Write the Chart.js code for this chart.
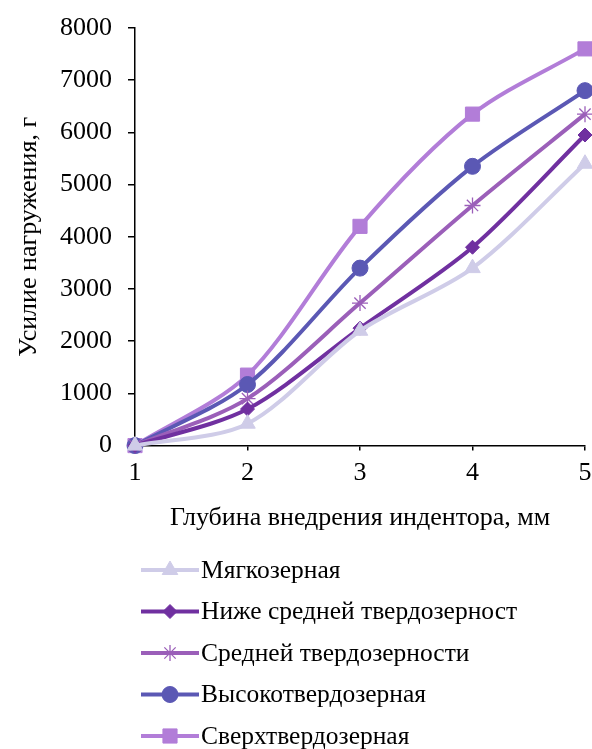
<!DOCTYPE html>
<html lang="ru">
<head>
  <meta charset="UTF-8" />
  <title>Усилие нагружения</title>
  <script src="https://cdn.jsdelivr.net/npm/chart.js@4"></script>
  <style>
    body { margin: 0; background: #fff; }
    #wrap { width: 592px; height: 749px; position: relative; }
  </style>
</head>
<body>
  <div id="wrap"><canvas id="chart"></canvas></div>

  <script>
    // Данные
    const depth = ['1', '2', '3', '4', '5'];
    const yTicks = [0, 1000, 2000, 3000, 4000, 5000, 6000, 7000, 8000];
    const soft = [0, 420, 2200, 3400, 5400];
    const belowMid = [0, 700, 2250, 3800, 5950];
    const mid = [0, 900, 2730, 4600, 6350];
    const high = [0, 1170, 3400, 5350, 6800];
    const superHard = [0, 1350, 4200, 6350, 7600];

    const labels = ['Мягкозерная', 'Ниже средней твердозерност', 'Средней твердозерности',
                    'Высокотвердозерная', 'Сверхтвердозерная'];
    const colors = ['#cfcce8', '#7030a0', '#9b5fb9', '#5b58b4', '#b27dd8'];
    const markers = ['triangle', 'rectRot', 'star', 'circle', 'rect'];
    const sizes = [9, 7, 8, 8, 10];
    const series = [soft, belowMid, mid, high, superHard];

    const font = "'Liberation Serif', 'Times New Roman', serif";
    const fontSize = 26;

    // Вертикальная легенда под графиком
    const legendPlugin = {
      id: 'vlegend',
      afterDraw(chart) {
        const ctx = chart.ctx;
        ctx.save();
        chart.data.datasets.forEach((ds, i) => {
          const y = 570 + i * 41.5;
          const x0 = 141, x1 = 199;
          ctx.strokeStyle = ds.borderColor;
          ctx.lineWidth = 4;
          ctx.beginPath();
          ctx.moveTo(x0, y);
          ctx.lineTo(x1, y);
          ctx.stroke();
          ctx.fillStyle = ds.pointBackgroundColor;
          ctx.strokeStyle = ds.pointBorderColor;
          ctx.lineWidth = ds.pointBorderWidth;
          Chart.helpers.drawPoint(ctx, {
            pointStyle: ds.pointStyle,
            radius: ds.pointRadius,
            borderWidth: ds.pointBorderWidth
          }, (x0 + x1) / 2, y);
          ctx.fillStyle = '#000';
          ctx.font = '25.5px ' + font;
          ctx.textBaseline = 'middle';
          ctx.fillText(ds.label, 201, y + 1);
        });
        ctx.restore();
      }
    };

    new Chart(document.getElementById('chart'), {
      type: 'line',
      data: {
        labels: depth,
        datasets: series.map((d, i) => ({
          label: labels[i],
          data: d,
          borderColor: colors[i],
          backgroundColor: colors[i],
          pointBackgroundColor: colors[i],
          pointBorderColor: colors[i],
          pointStyle: markers[i],
          pointRadius: sizes[i],
          pointBorderWidth: markers[i] === 'star' ? 1.3 : 1,
          borderWidth: 4,
          tension: 0.3,
          fill: false,
          clip: false
        }))
      },
      options: {
        responsive: true,
        maintainAspectRatio: false,
        animation: false,
        layout: { autoPadding: false, padding: { top: 28, right: 7, bottom: 209, left: 0 } },
        plugins: {
          legend: { display: false },
          tooltip: { enabled: false }
        },
        scales: {
          x: {
            offset: false,
            afterFit: (axis) => { axis.paddingLeft = 0; axis.paddingRight = 0; },
            grid: { display: true, drawOnChartArea: false, color: '#000', tickLength: 5, lineWidth: 1.5 },
            border: { color: '#000', width: 1.5 },
            ticks: { color: '#000', font: { family: font, size: fontSize }, padding: 7, maxRotation: 0 },
            title: {
              display: true,
              text: 'Глубина внедрения индентора, мм',
              color: '#000',
              font: { family: font, size: fontSize },
              padding: { top: 7, bottom: 6 }
            }
          },
          y: {
            min: 0,
            max: 8000,
            afterBuildTicks: (axis) => { axis.ticks = yTicks.map(v => ({ value: v })); },
            afterFit: (axis) => { axis.width = 135; axis.paddingTop = 0; axis.paddingBottom = 0; },
            grid: { display: true, drawOnChartArea: false, color: '#000', tickLength: 7, lineWidth: 1.5 },
            border: { color: '#000', width: 1.5 },
            ticks: {
              color: '#000',
              font: { family: font, size: fontSize },
              padding: 16,
              callback: (v) => String(v)
            },
            title: {
              display: true,
              text: 'Усилие нагружения, г',
              color: '#000',
              font: { family: font, size: fontSize },
              padding: { top: 14, bottom: 0 }
            }
          }
        }
      },
      plugins: [legendPlugin]
    });
  </script>
</body>
</html>
